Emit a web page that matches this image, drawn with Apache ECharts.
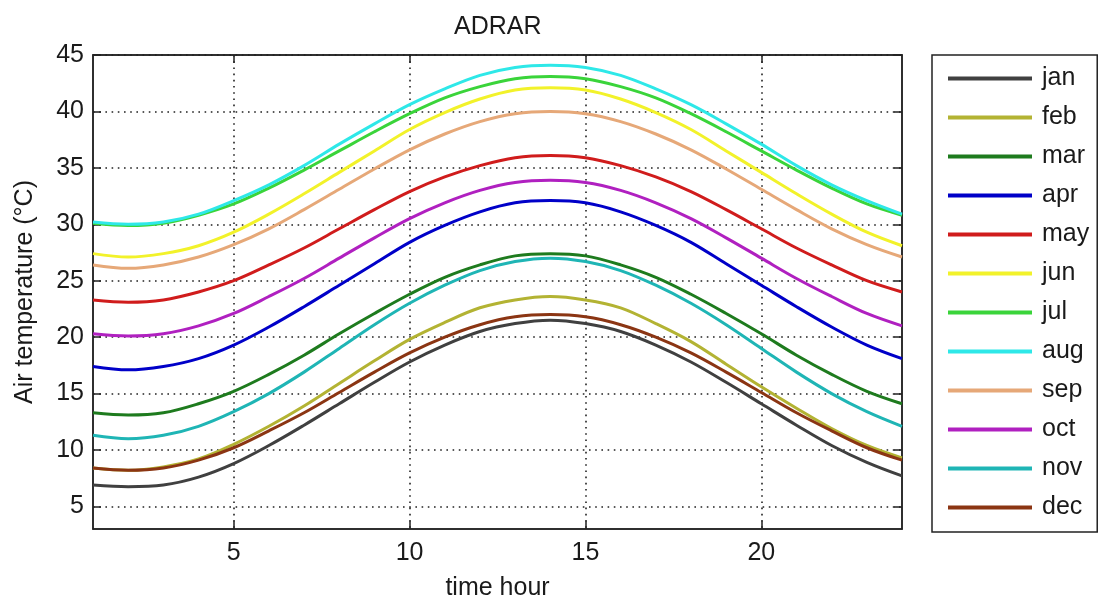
<!DOCTYPE html>
<html>
<head>
<meta charset="utf-8">
<script src="https://cdn.jsdelivr.net/npm/echarts@6/dist/echarts.min.js"></script>
<style>
html,body{margin:0;padding:0;background:#fff;}
#chart{width:1101px;height:602px;}
</style>
</head>
<body>
<div id="chart"></div>
<script>
// Hours (x values)
const hours = [1,2,3,4,5,6,7,8,9,10,11,12,13,14,15,16,17,18,19,20,21,22,23,24];
const months = ['jan','feb','mar','apr','may','jun','jul','aug','sep','oct','nov','dec'];
const xTicks = [5,10,15,20];
const yTicks = [5,10,15,20,25,30,35,40,45];

// Hourly air temperature (°C)
const jan = [6.9,6.75,6.9,7.6,8.8,10.4,12.2,14.1,16.0,17.8,19.3,20.5,21.2,21.5,21.2,20.5,19.3,17.8,16.0,14.1,12.2,10.4,8.9,7.7];
const feb = [8.4,8.2,8.5,9.2,10.5,12.1,13.9,15.9,17.9,19.8,21.3,22.6,23.3,23.6,23.3,22.6,21.2,19.6,17.6,15.6,13.7,11.9,10.4,9.3];
const mar = [13.3,13.1,13.3,14.1,15.2,16.7,18.4,20.3,22.1,23.8,25.3,26.4,27.2,27.4,27.2,26.4,25.3,23.8,22.1,20.3,18.4,16.7,15.2,14.1];
const apr = [17.4,17.1,17.4,18.1,19.3,20.9,22.7,24.6,26.5,28.4,29.9,31.1,31.9,32.1,31.9,31.1,29.9,28.4,26.5,24.6,22.7,20.9,19.3,18.1];
const may = [23.3,23.1,23.3,24.0,25.0,26.4,27.9,29.6,31.3,32.9,34.2,35.2,35.9,36.1,35.9,35.2,34.2,32.9,31.3,29.6,27.9,26.4,25.0,24.0];
const jun = [27.4,27.1,27.4,28.1,29.3,30.9,32.7,34.6,36.5,38.4,39.9,41.1,41.9,42.1,41.9,41.1,39.9,38.4,36.5,34.6,32.7,30.9,29.3,28.1];
const jul = [30.1,29.9,30.1,30.8,31.8,33.2,34.8,36.5,38.2,39.8,41.2,42.2,42.9,43.1,42.9,42.2,41.2,39.8,38.2,36.5,34.8,33.2,31.8,30.8];
const aug = [30.2,30.0,30.2,30.9,32.1,33.5,35.2,37.1,38.9,40.6,42.0,43.2,43.9,44.1,43.9,43.2,42.0,40.6,38.9,37.1,35.2,33.5,32.1,30.9];
const sep = [26.4,26.1,26.4,27.1,28.2,29.6,31.3,33.1,34.9,36.6,38.0,39.1,39.8,40.0,39.8,39.1,38.0,36.6,34.9,33.1,31.3,29.6,28.2,27.1];
const oct = [20.3,20.1,20.3,21.0,22.1,23.6,25.2,27.0,28.8,30.5,31.9,33.0,33.7,33.9,33.7,33.0,31.9,30.5,28.8,27.0,25.2,23.6,22.1,21.0];
const nov = [11.3,11.0,11.3,12.1,13.4,15.0,16.9,19.0,21.1,23.0,24.6,25.9,26.7,27.0,26.7,25.9,24.6,23.0,21.1,19.0,16.9,15.0,13.4,12.1];
const dec = [8.4,8.2,8.4,9.1,10.2,11.7,13.3,15.1,16.9,18.6,20.0,21.1,21.8,22.0,21.8,21.1,20.0,18.6,16.9,15.1,13.3,11.7,10.2,9.1];

const seriesData = [jan,feb,mar,apr,may,jun,jul,aug,sep,oct,nov,dec];
const colors = ['#404040','#b3b333','#1e7b1e','#0000c8','#d01c1c','#f2f22a','#3ad43a','#2ee8e8','#e6a878','#b020c0','#1fb5b5','#8b3513'];

const FONT = "'Liberation Sans', Arial, sans-serif";
const TXT = '#1a1a1a';

const gridLine = {show:true, lineStyle:{color:'#222', width:1.6, type:[1.6,4.6]}};

const chart = echarts.init(document.getElementById('chart'), null, {renderer:'canvas'});
chart.setOption({
  backgroundColor:'#ffffff',
  animation:false,
  textStyle:{fontFamily:FONT},
  title:{text:'ADRAR', left:449, top:10, textStyle:{fontFamily:FONT, fontSize:25, fontWeight:'normal', color:TXT}},
  grid:{left:93, top:55, width:809, height:474, show:true, borderColor:'#222', borderWidth:1.5, backgroundColor:'#fff', containLabel:false, outerBoundsMode:'none'},
  legend:{
    orient:'vertical', left:932, top:55,
    data:months,
    icon:'rect', itemWidth:84, itemHeight:4, itemGap:14,
    padding:[11,8,12,16],
    borderColor:'#222', borderWidth:1.5, backgroundColor:'#fff',
    textStyle:{fontFamily:FONT, fontSize:25, color:TXT, lineHeight:25, padding:[0,0,0,5]}
  },
  xAxis:[{
    type:'value', min:1, max:24, position:'bottom',
    name:'time hour', nameLocation:'middle', nameGap:47,
    nameTextStyle:{fontFamily:FONT, fontSize:25, color:TXT},
    axisLine:{show:true, onZero:false, lineStyle:{color:'#222', width:1.5}},
    axisTick:{show:true, inside:true, length:8, customValues:xTicks, lineStyle:{color:'#222', width:1.5}},
    axisLabel:{show:true, customValues:xTicks, margin:12, fontFamily:FONT, fontSize:25, color:TXT},
    splitLine:gridLine
  },{
    type:'value', min:1, max:24, position:'top',
    axisLine:{show:true, onZero:false, lineStyle:{color:'#222', width:1.5}},
    axisTick:{show:true, inside:true, length:8, customValues:xTicks, lineStyle:{color:'#222', width:1.5}},
    axisLabel:{show:false},
    splitLine:{show:false}
  }],
  yAxis:[{
    type:'value', min:3, max:45, position:'left',
    name:'Air temperature (°C)', nameLocation:'middle', nameGap:55,
    nameTextStyle:{fontFamily:FONT, fontSize:25, color:TXT},
    axisLine:{show:true, onZero:false, lineStyle:{color:'#222', width:1.5}},
    axisTick:{show:true, inside:true, length:8, customValues:yTicks, lineStyle:{color:'#222', width:1.5}},
    axisLabel:{show:true, customValues:yTicks, margin:9, fontFamily:FONT, fontSize:25, color:TXT},
    splitLine:gridLine
  },{
    type:'value', min:3, max:45, position:'right',
    axisLine:{show:true, onZero:false, lineStyle:{color:'#222', width:1.5}},
    axisTick:{show:true, inside:true, length:8, customValues:yTicks, lineStyle:{color:'#222', width:1.5}},
    axisLabel:{show:false},
    splitLine:{show:false}
  }],
  series: months.map((m,i)=>({
    name:m, type:'line', xAxisIndex:0, yAxisIndex:0,
    data: hours.map((h,k)=>[h, seriesData[i][k]]),
    showSymbol:false, smooth:0.35,
    itemStyle:{color:colors[i]},
    lineStyle:{color:colors[i], width:3},
    z: 2
  }))
});
</script>
</body>
</html>
